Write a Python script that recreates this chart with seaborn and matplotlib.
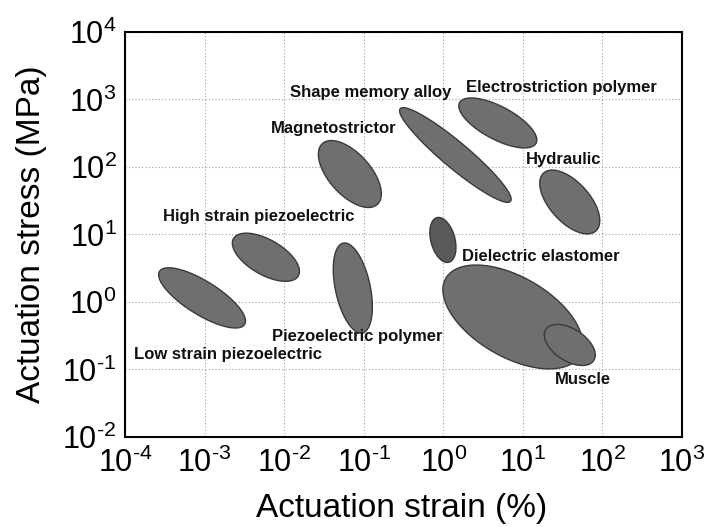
import numpy as np
import matplotlib
matplotlib.use("Agg")
import matplotlib.pyplot as plt
import seaborn as sns
from matplotlib.ticker import LogLocator, FuncFormatter, NullFormatter

# ---- data ----
materials = ["Low strain piezoelectric", "High strain piezoelectric", "Piezoelectric polymer",
             "Magnetostrictor", "Shape memory alloy", "Electrostriction polymer", "Hydraulic",
             "Dielectric elastomer (small)", "Dielectric elastomer", "Muscle"]
center_strain = [9.3e-4, 5.9e-3, 0.073, 0.067, 1.42, 4.85, 38.9, 0.99, 7.48, 38.9]   # %
center_stress = [1.15, 4.6, 1.61, 78.7, 150.6, 449.0, 30.3, 8.3, 0.60, 0.231]        # MPa
semi_major_dec = [0.63, 0.47, 0.577, 0.515, 0.905, 0.544, 0.49, 0.29, 0.972, 0.359]  # decades
semi_minor_dec = [0.21, 0.22, 0.219, 0.261, 0.163, 0.207, 0.251, 0.151, 0.503, 0.201]
tilt_deg = [-32, -30, 102, -48, -40, -28, -48, 105, -30, -33]
dark_flag = [0, 0, 0, 0, 0, 0, 0, 1, 0, 0]

label_text = ["Shape memory alloy", "Electrostriction polymer", "Magnetostrictor", "Hydraulic",
              "High strain piezoelectric", "Dielectric elastomer", "Piezoelectric polymer",
              "Low strain piezoelectric", "Muscle"]
label_strain = [0.0118, 1.92, 0.00682, 10.9, 3.0e-4, 1.71, 0.00703, 1.30e-4, 25.2]
label_stress = [1291, 1531, 378, 127, 18.2, 4.8, 0.303, 0.164, 0.0699]

x_limits = (1e-4, 1e3)
y_limits = (1e-2, 1e4)

# ---- style ----
sns.set_theme(style="white")
plt.rcParams["font.family"] = ["Liberation Sans", "DejaVu Sans"]
plt.rcParams["mathtext.fontset"] = "custom"
plt.rcParams["mathtext.rm"] = "Liberation Sans"
plt.rcParams["mathtext.it"] = "Liberation Sans:italic"
plt.rcParams["mathtext.bf"] = "Liberation Sans:bold"
plt.rcParams["axes.unicode_minus"] = False

fig = plt.figure(figsize=(7.05, 5.27), dpi=100)
ax = fig.add_axes([0.1773, 0.1708, 0.790, 0.7685])
ax.set_xscale("log")
ax.set_yscale("log")
ax.set_xlim(*x_limits)
ax.set_ylim(*y_limits)

# pixel length of one decade in x and y (from the axes transform)
p0 = ax.transData.transform((1.0, 1.0))
p1 = ax.transData.transform((10.0, 10.0))
aspect = (p1[0] - p0[0]) / (p1[1] - p0[1])

t = np.linspace(0, 2 * np.pi, 300)
for cx, cy, a, b, th, dk in zip(center_strain, center_stress, semi_major_dec,
                                semi_minor_dec, tilt_deg, dark_flag):
    r = np.deg2rad(th)
    ux = a * np.cos(t) * np.cos(r) - b * np.sin(t) * np.sin(r)
    uy = a * np.cos(t) * np.sin(r) + b * np.sin(t) * np.cos(r)
    xs = 10 ** (np.log10(cx) + ux)
    ys = 10 ** (np.log10(cy) + uy * aspect)
    ax.fill(xs, ys, facecolor="#5a5a5a" if dk else "#6f6f6f",
            edgecolor="#3a3a3a", linewidth=1.0, zorder=3)

for s, x, y in zip(label_text, label_strain, label_stress):
    ax.text(x, y, s, ha="left", va="center", fontsize=12, fontweight="bold",
            color="#111111", zorder=4)


def pow10(v, pos):
    e = int(round(np.log10(v)))
    sup = (r"\text{-}%d" % (-e)) if e < 0 else "%d" % e
    return r"$\mathdefault{10^{%s}}$" % sup


# grid, ticks, spines
ax.grid(True, which="major", linestyle=(0, (1, 2)), color="#a0a0a0", linewidth=0.8, zorder=0)
ax.set_axisbelow(True)
ax.xaxis.set_major_locator(LogLocator(base=10, numticks=20))
ax.yaxis.set_major_locator(LogLocator(base=10, numticks=20))
ax.xaxis.set_minor_locator(LogLocator(base=10, subs=np.arange(2, 10), numticks=20))
ax.yaxis.set_minor_locator(LogLocator(base=10, subs=np.arange(2, 10), numticks=20))
ax.xaxis.set_major_formatter(FuncFormatter(pow10))
ax.yaxis.set_major_formatter(FuncFormatter(pow10))
ax.xaxis.set_minor_formatter(NullFormatter())
ax.yaxis.set_minor_formatter(NullFormatter())
ax.tick_params(which="both", direction="in", top=False, right=False, colors="black",
               labelsize=22)
ax.tick_params(which="major", length=6, width=1.2)
ax.tick_params(axis="x", which="major", pad=8)
ax.tick_params(axis="y", which="major", pad=6)
ax.tick_params(which="minor", length=3, width=1.0)
for sp in ax.spines.values():
    sp.set_color("black")
    sp.set_linewidth(1.5)

ax.set_xlabel("Actuation strain (%)", fontsize=24, color="black")
ax.set_ylabel("Actuation stress (MPa)", fontsize=24, color="black")
ax.xaxis.set_label_coords(0.496, -0.138)
ax.yaxis.set_label_coords(-0.14, 0.5)

fig.savefig("out.png", dpi=100)
